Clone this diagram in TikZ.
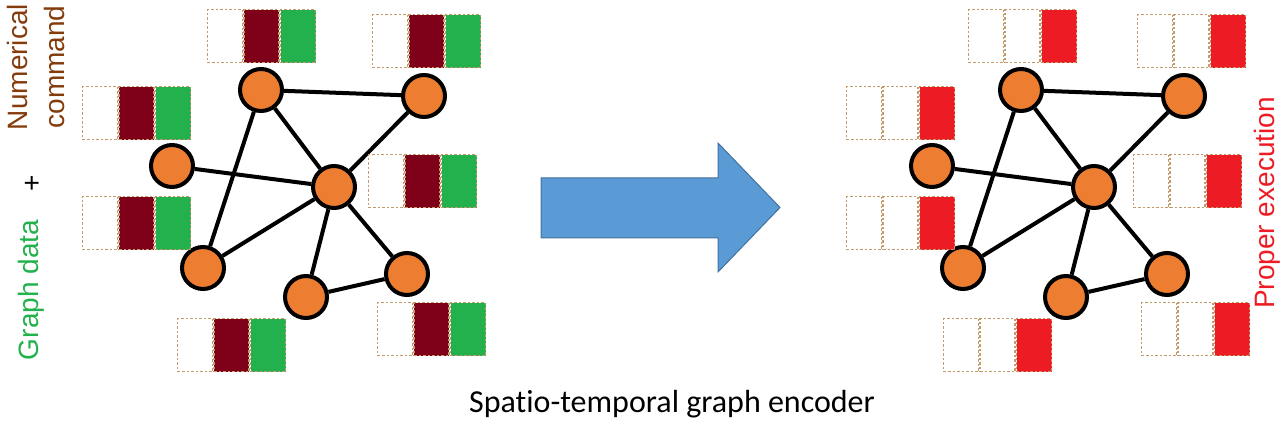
\documentclass[tikz,border=0pt]{standalone}
\usepackage{fontspec}
\setmainfont{Liberation Sans}
\newfontfamily\capfont[Ligatures=NoCommon]{Carlito}
\usetikzlibrary{arrows.meta,positioning}
\definecolor{Orange}{HTML}{ED7D31}
\definecolor{Wine}{HTML}{7F0019}
\definecolor{Leaf}{HTML}{22B14C}
\definecolor{Hot}{HTML}{ED1C24}
\definecolor{Tan}{HTML}{C49A6C}
\definecolor{Rust}{HTML}{843C0C}
\definecolor{Sky}{HTML}{5B9BD5}
\definecolor{SkyEdge}{HTML}{41719C}
\tikzset{
  vertex/.style={circle, draw=black, line width=4pt, fill=Orange,
                 minimum size=42pt, inner sep=0pt},
  link/.style={draw=black, line width=4pt},
  cell/.style={draw=Tan, line width=1.4pt, dash pattern=on 2.5pt off 2pt, fill=white,
               minimum width=35pt, minimum height=53pt, inner sep=0pt, anchor=north west},
  bigarrow/.style={fill=Sky, draw=SkyEdge, line width=1pt},
  sidetext/.style={font=\fontsize{28}{37}\selectfont, rotate=90, align=center, inner sep=0pt},
}
\begin{document}
\begin{tikzpicture}[x=1pt, y=-1pt]
  \useasboundingbox (0,0) rectangle (1283,422);
  % two copies of the graph
  \foreach \g/\dx in {l/0, r/760} {
    \begin{scope}[xshift=\dx pt]
      \node[vertex] (\g a) at (261,90) {};
      \node[vertex] (\g b) at (424,96) {};
      \node[vertex] (\g c) at (172,166) {};
      \node[vertex] (\g d) at (334,187) {};
      \node[vertex] (\g e) at (203,268) {};
      \node[vertex] (\g f) at (306,297) {};
      \node[vertex] (\g g) at (407,274) {};
    \end{scope}
    \draw[link] (\g a)--(\g b);
    \draw[link] (\g a)--(\g d);
    \draw[link] (\g a)--(\g e);
    \draw[link] (\g c)--(\g d);
    \draw[link] (\g d)--(\g b);
    \draw[link] (\g d)--(\g e);
    \draw[link] (\g d)--(\g f);
    \draw[link] (\g d)--(\g g);
    \draw[link] (\g f)--(\g g);
  }
  % input features
  \foreach \bx/\by [count=\i] in {207/9, 372/14, 82/86, 368/154, 82/196, 177/318, 377/302} {
    \node[cell] (in\i a) at (\bx,\by) {};
    \node[cell, fill=Wine, right=0pt of in\i a] (in\i b) {};
    \node[cell, fill=Leaf, right=0pt of in\i b] (in\i c) {};
  }
  % output features
  \foreach \bx/\by [count=\i] in {968/9, 1137/14, 846/86, 1133/154, 846/196, 943/318, 1141/302} {
    \node[cell] (out\i a) at (\bx,\by) {};
    \node[cell, right=0pt of out\i a] (out\i b) {};
    \node[cell, fill=Hot, right=0pt of out\i b] (out\i c) {};
  }
  % encoder arrow
  \draw[bigarrow] (541,178) -- (718,178) -- (718,143) -- (780,207.5)
    -- (718,272) -- (718,238) -- (541,238) -- cycle;
  % labels
  \node[sidetext, text=Rust] (cmd) at (36,67) {Numerical\\command};
  \node[sidetext] (plus) at (33,183) {+};
  \node[sidetext, text=Leaf] (data) at (31,290) {Graph data};
  \node[sidetext, text=Hot] (exec) at (1267,203) {Proper execution};
  \node[font=\capfont\fontsize{32}{36}\selectfont] (enc) at (672,404) {Spatio-temporal graph encoder};
\end{tikzpicture}
\end{document}
